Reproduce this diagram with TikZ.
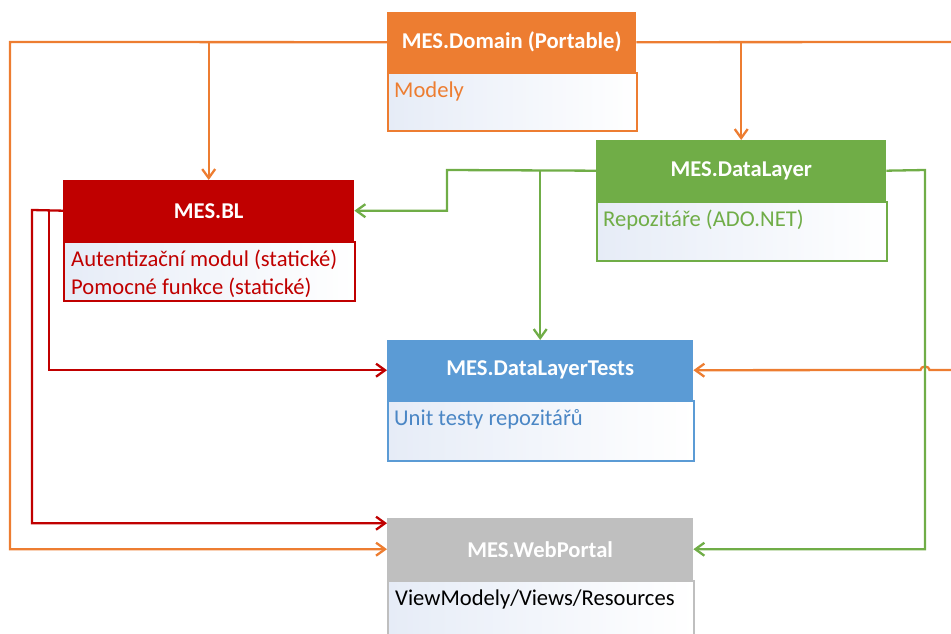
\documentclass[tikz,border=0pt]{standalone}
\usepackage{fontspec}
\setmainfont{Carlito}
\usetikzlibrary{arrows.meta}

\definecolor{cOrange}{HTML}{ED7D31}
\definecolor{cRed}{HTML}{C00000}
\definecolor{cGreen}{HTML}{70AD47}
\definecolor{cBlue}{HTML}{5B9BD5}
\definecolor{cBlueText}{HTML}{4A86C5}
\definecolor{cGray}{HTML}{BFBFBF}
\definecolor{bodyTint}{HTML}{E6ECF7}

\newcommand\hdrfont{\fontsize{22.6}{27}\selectfont\bfseries}
\newcommand\bodyfont{\fontsize{22.6}{28}\selectfont}

\tikzset{
  hdr/.style={rectangle, fill=#1, draw=none, anchor=north west, inner sep=0pt,
              text=white, font=\hdrfont},
  bodyrect/.style={rectangle, draw=#1, line width=2.2pt, left color=bodyTint,
              right color=white, anchor=north west, inner sep=0pt},
  btext/.style={anchor=base west, text=#1, font=\bodyfont, inner sep=0pt},
  link/.style={draw=#1, line width=2.3pt, line join=miter},
  arr/.style={-{Straight Barb[length=9pt,width=13pt,line width=2.3pt]}},
}

\begin{document}
\begin{tikzpicture}[x=1pt, y=-1pt]
\useasboundingbox (0,0) rectangle (951,634);
\clip (0,0) rectangle (951,634);

% ---- MES.Domain ----
\node[hdr=cOrange, minimum width=249pt, minimum height=60pt] (dom) at (387,12) {MES.Domain (Portable)};
\node[bodyrect=cOrange, minimum width=249pt, minimum height=58pt] (domb) at (387,72) {};
\node[btext=cOrange] (domt) at (394,97) {Modely};

% ---- MES.BL ----
\node[hdr=cRed, minimum width=291pt, minimum height=61pt] (bl) at (63,180) {MES.BL};
\node[bodyrect=cRed, minimum width=291pt, minimum height=59pt] (blb) at (63,241) {};
\node[btext=cRed] (blt1) at (71,266) {Autentizační modul (statické)};
\node[btext=cRed] (blt2) at (71,294) {Pomocné funkce (statické)};

% ---- MES.DataLayer ----
\node[hdr=cGreen, minimum width=290pt, minimum height=61pt] (dl) at (596,140) {MES.DataLayer};
\node[bodyrect=cGreen, minimum width=290pt, minimum height=59pt] (dlb) at (596,201) {};
\node[btext=cGreen] (dlt) at (603,226) {Repozitáře (ADO.NET)};

% ---- MES.DataLayerTests ----
\node[hdr=cBlue, minimum width=306pt, minimum height=60pt] (tst) at (387,340) {MES.DataLayerTests};
\node[bodyrect=cBlue, minimum width=306pt, minimum height=60pt] (tstb) at (387,400) {};
\node[btext=cBlueText] (tstt) at (394,425) {Unit testy repozitářů};

% ---- MES.WebPortal ----
\node[hdr=cGray, minimum width=306pt, minimum height=62pt] (wp) at (387,518) {MES.WebPortal};
\node[bodyrect=cGray, minimum width=306pt, minimum height=80pt] (wpb) at (387,580) {};
\node[btext=black] (wpt) at (395,605) {ViewModely/Views/Resources};

% ---- orange links from MES.Domain ----
\coordinate (oL) at (10,42);
\coordinate (oR1) at (970,42);
\coordinate (oR2) at (970,370);
\coordinate (hopR) at (929.5,370);
\draw[link=cOrange, arr] (dom.west) -- (oL) |- (wp.west);
\draw[link=cOrange, arr] (bl.north |- dom.west) -- (bl.north);
\draw[link=cOrange, arr] (dl.north |- dom.east) -- (dl.north);
\draw[link=cOrange, arr] (dom.east) -- (oR1) -- (oR2) -- (hopR)
   arc[start angle=0, end angle=180, x radius=4.5pt, y radius=3.5pt] -- (tst.east);

% ---- red links from MES.BL ----
\coordinate (r1) at (32,210);
\coordinate (r2) at (49,210);
\draw[link=cRed, arr] (bl.west) -- (r1) |- ([yshift=26pt]wp.west);
\draw[link=cRed, arr] (r2) |- (tst.west);

% ---- green links from MES.DataLayer ----
\coordinate (g1) at (447,170);
\coordinate (g2) at (925,170);
\draw[link=cGreen, arr] (dl.west) -- (g1) |- (bl.east);
\draw[link=cGreen, arr] (tst.north |- dl.west) -- (tst.north);
\draw[link=cGreen, arr] (dl.east) -- (g2) |- (wp.east);
\end{tikzpicture}
\end{document}
